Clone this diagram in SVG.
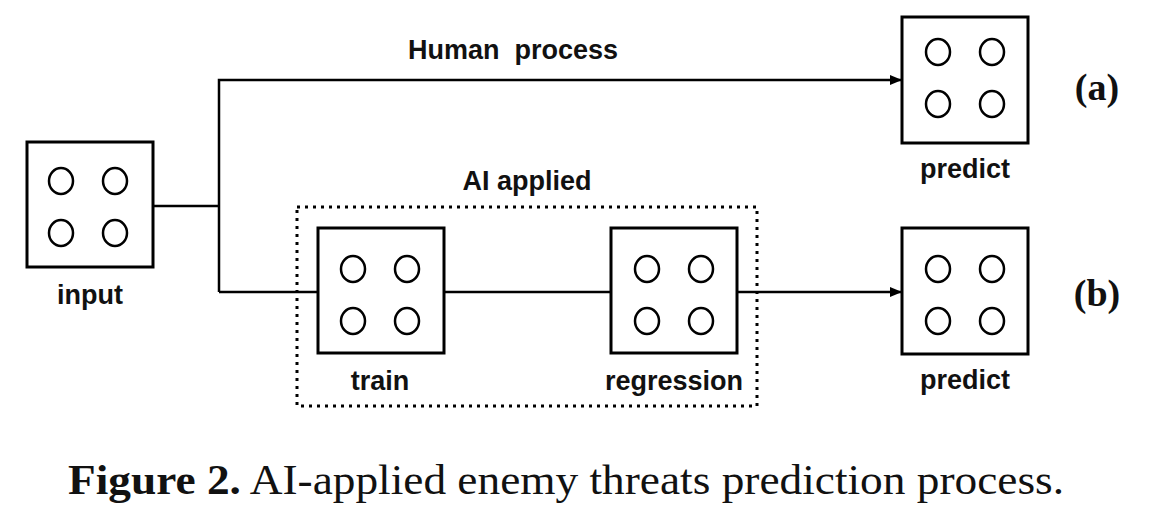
<svg xmlns="http://www.w3.org/2000/svg" width="1150" height="521" viewBox="0 0 1150 521">
<style>
.box{fill:#fff;stroke:#000;stroke-width:3}
.dot{fill:none;stroke:#000;stroke-width:2.5}
.ln{fill:none;stroke:#000;stroke-width:2.5}
.lbl{font-family:"Liberation Sans",Arial,sans-serif;font-weight:bold;font-size:27px;text-anchor:middle;fill:#111}
.tag{font-family:"Liberation Serif","Times New Roman",serif;font-weight:bold;font-size:38px;text-anchor:middle;fill:#111}
.cap{font-family:"Liberation Serif","Times New Roman",serif;font-size:42px;fill:#111}
</style>
<defs>
<marker id="ah" markerWidth="12" markerHeight="10" refX="11" refY="5" orient="auto" markerUnits="userSpaceOnUse">
<path d="M0,0 L12,5 L0,10 Z" fill="#000"/>
</marker>
<g id="circles">
<ellipse cx="-27" cy="-26" rx="12" ry="13" class="dot"/>
<ellipse cx="27" cy="-26" rx="12" ry="13" class="dot"/>
<ellipse cx="-27" cy="26" rx="12" ry="13" class="dot"/>
<ellipse cx="27" cy="26" rx="12" ry="13" class="dot"/>
</g>
</defs>
<rect width="1150" height="521" fill="#fff"/>
<g id="connectors">
<path class="ln" d="M153,206 H219"/>
<path class="ln" d="M219,292 V80 H901" marker-end="url(#ah)"/>
<path class="ln" d="M219,292 H318"/>
<path class="ln" d="M444,292 H611"/>
<path class="ln" d="M737,292 H901" marker-end="url(#ah)"/>
</g>
<g id="ai-group">
<rect x="297" y="207" width="460" height="199" fill="none" stroke="#000" stroke-width="3" stroke-dasharray="3,5"/>
<text class="lbl" x="527" y="190">AI applied</text>
</g>
<text class="lbl" x="513" y="59" xml:space="preserve">Human  process</text>
<g id="input">
<rect class="box" x="27" y="142" width="126" height="125"/>
<use href="#circles" x="88" y="207"/>
<text class="lbl" x="90" y="304">input</text>
</g>
<g id="train">
<rect class="box" x="318" y="228" width="126" height="125"/>
<use href="#circles" x="380" y="295"/>
<text class="lbl" x="380" y="390">train</text>
</g>
<g id="regression">
<rect class="box" x="611" y="228" width="126" height="125"/>
<use href="#circles" x="674" y="295"/>
<text class="lbl" x="674" y="390">regression</text>
</g>
<g id="predict-a">
<rect class="box" x="902" y="17" width="126" height="126"/>
<use href="#circles" x="965" y="78"/>
<text class="lbl" x="965" y="178">predict</text>
</g>
<g id="predict-b">
<rect class="box" x="902" y="228" width="126" height="126"/>
<use href="#circles" x="965" y="295"/>
<text class="lbl" x="965" y="389">predict</text>
</g>
<text class="tag" x="1097" y="100">(a)</text>
<text class="tag" x="1097" y="306">(b)</text>
<text class="cap" x="68" y="494" textLength="996" lengthAdjust="spacingAndGlyphs"><tspan font-weight="bold">Figure 2.</tspan> AI-applied enemy threats prediction process.</text>
</svg>
